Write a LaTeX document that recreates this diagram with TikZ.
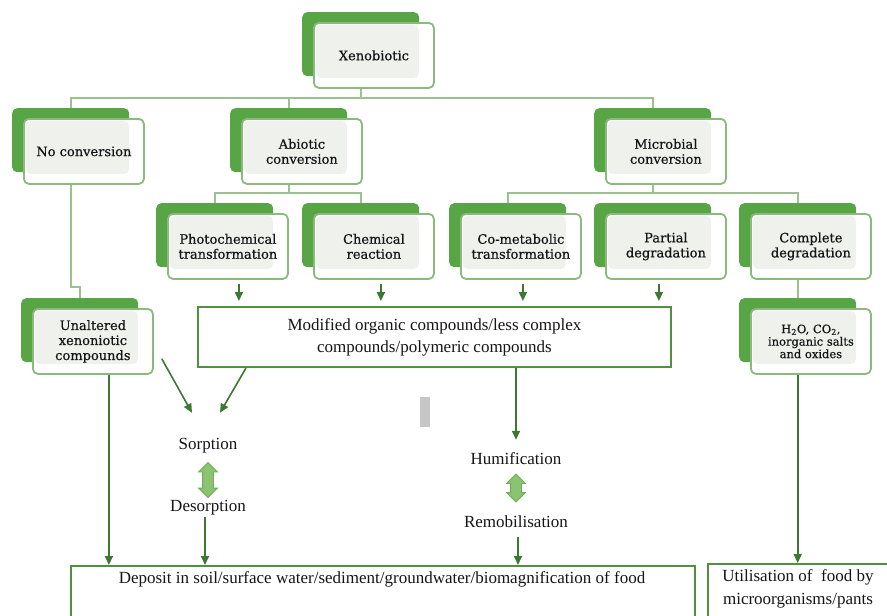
\documentclass[tikz,border=0pt]{standalone}
\usepackage{fontspec}
\setmainfont{Liberation Serif}
\newfontfamily\boxfont[FakeBold=0.5]{DejaVu Serif}
\usetikzlibrary{arrows.meta,shapes.arrows}

\definecolor{leafgreen}{HTML}{58A546}
\definecolor{frameedge}{HTML}{8CB97D}
\definecolor{paneltint}{HTML}{EEF1EC}
\definecolor{treeline}{HTML}{9CC090}
\definecolor{flowgreen}{HTML}{3C7832}
\definecolor{outframe}{HTML}{509141}
\definecolor{swapfill}{HTML}{8CC373}
\definecolor{swapedge}{HTML}{6FAE58}
\definecolor{ink}{HTML}{151515}

\tikzset{
  backbox/.style={rectangle, rounded corners=5pt, fill=leafgreen,
    minimum width=117pt, minimum height=64pt, inner sep=0pt},
  frontbox/.style={rectangle, rounded corners=5pt, draw=frameedge, line width=1.8pt,
    fill=white, minimum width=120pt, minimum height=65pt, inner sep=0pt,
    align=center, text=ink, font=\boxfont\fontsize{13}{15}\selectfont,
    path picture={\fill[paneltint]
      ([shift={(2pt,-2pt)}]path picture bounding box.north west) rectangle
      ([shift={(-15pt,10pt)}]path picture bounding box.south east);}},
  tree/.style={draw=treeline, line width=1.8pt},
  flow/.style={draw=flowgreen, line width=1.6pt, -{Triangle[length=9pt,width=8pt]}},
  outbox/.style={rectangle, draw=outframe, line width=2pt, inner sep=0pt},
  plain/.style={font=\fontsize{17}{22}\selectfont, text=ink, inner sep=0pt,
    text height=12pt, text depth=4pt},
  swap/.style={double arrow, double arrow head extend=4pt, minimum width=18pt,
    inner xsep=0pt, inner ysep=5pt, rotate=90, fill=swapfill, draw=swapedge,
    line width=0.8pt}
}

% green tab behind a framed white panel; #2,#3 = top-left corner of the panel
\newcommand\greenbox[4]{%
  \node[backbox, anchor=north west] (#1-b) at (#2-11,#3-10) {};
  \node[frontbox, anchor=north west] (#1) at (#2,#3) {#4};
}

\begin{document}
\begin{tikzpicture}[x=1pt,y=-1pt]
\useasboundingbox (0,0) rectangle (887,616);
\clip (0,0) rectangle (887,616);

% bus coordinates of the tree
\coordinate (bus1) at (0,98);
\coordinate (bus2) at (0,193);
\coordinate (jog) at (0,287);

% boxes of the classification tree
\greenbox{xeno}{313}{22}{Xenobiotic}
\greenbox{nocv}{23}{118}{No conversion}
\greenbox{abio}{241}{118}{Abiotic\\conversion}
\greenbox{micro}{605}{118}{Microbial\\conversion}
\greenbox{photo}{167}{213}{Photochemical\\transformation}
\greenbox{chem}{313}{213}{Chemical\\reaction}
\greenbox{comet}{460}{213}{Co-metabolic\\transformation}
\greenbox{part}{605}{213}{Partial\\degradation}
\greenbox{comp}{750}{213}{Complete\\degradation}
\greenbox{unalt}{32}{308}{Unaltered\\xenoniotic\\compounds}
\node[backbox, anchor=north west] (h2o-b) at (739,298) {};
\node[frontbox, anchor=north west, font=\boxfont\fontsize{11.5}{12.5}\selectfont] (h2o) at (750,308)
  {H\textsubscript{2}O, CO\textsubscript{2},\\inorganic salts\\and oxides};

% tree connectors
\draw[tree] (xeno-b.south |- xeno.south) -- (xeno-b.south |- bus1);
\draw[tree] (nocv-b.north) |- (xeno-b.south |- bus1) -| (micro-b.north);
\draw[tree] (abio-b.north) -- (abio-b.north |- bus1);
\draw[tree] (abio-b.south |- abio.south) -- (abio-b.south |- bus2);
\draw[tree] (photo-b.north) |- (abio-b.south |- bus2) -| (chem-b.north);
\draw[tree] (micro-b.south |- micro.south) -- (micro-b.south |- bus2);
\draw[tree] (comet-b.north) |- (micro-b.south |- bus2) -| (comp-b.north);
\draw[tree] (nocv-b.south |- nocv.south) -- (nocv-b.south |- jog) -| (unalt-b.north);
\draw[tree] (comp-b.south |- comp.south) -- (h2o-b.north);

% product and fate boxes
\node[outbox, minimum width=473pt, minimum height=60pt, align=center,
  font=\fontsize{17}{22}\selectfont, text=ink] (modi) at (434.5,337)
  {Modified organic compounds/less complex\\compounds/polymeric compounds};
\node[outbox, anchor=north west, minimum width=624pt, minimum height=80pt] (depo) at (70,565) {};
\node[plain] (depo-t) at (382,579)
  {Deposit in soil/surface water/sediment/groundwater/biomagnification of food};
\node[outbox, anchor=north west, minimum width=190pt, minimum height=80pt] (util) at (707,563) {};
\node[align=center, inner sep=0pt, text=ink, font=\fontsize{17}{23}\selectfont] (util-t) at (798,589)
  {Utilisation of\ \ food by\\microorganisms/pants};

% equilibria
\node[plain] (sorp) at (208,445) {Sorption};
\node[plain] (deso) at (208,507) {Desorption};
\node[swap, minimum height=35pt] (sd) at (208,480) {};
\node[plain] (humi) at (516,460) {Humification};
\node[plain] (remo) at (516,523) {Remobilisation};
\node[swap, minimum height=28pt] (hr) at (516,488) {};

% grey marker
\fill[gray!45] (420,397) rectangle (430,427);

% flow arrows
\draw[flow, shorten >=5pt] ([xshift=11pt,yshift=-4pt]photo.south) -- ([xshift=11pt]photo.south |- modi.north);
\draw[flow, shorten >=5pt] ([xshift=7pt,yshift=-4pt]chem.south) -- ([xshift=7pt]chem.south |- modi.north);
\draw[flow, shorten >=5pt] ([xshift=2pt,yshift=-4pt]comet.south) -- ([xshift=2pt]comet.south |- modi.north);
\draw[flow, shorten >=5pt] ([xshift=-7pt,yshift=-4pt]part.south) -- ([xshift=-7pt]part.south |- modi.north);
\draw[flow] ([xshift=16pt]unalt.south) -- ([xshift=16pt]unalt.south |- depo.north);
\draw[flow] ([xshift=8pt,yshift=16pt]unalt.south east) -- ([xshift=-16pt,yshift=24pt]sorp.north);
\draw[flow] ([xshift=49pt]modi.south west) -- ([xshift=12pt,yshift=24pt]sorp.north);
\draw[flow, shorten >=12pt] (humi |- modi.south) -- (humi.north);
\draw[flow, shorten <=2pt] ([xshift=-3pt]deso.south) -- ([xshift=-3pt]deso.south |- depo.north);
\draw[flow, shorten <=6pt] ([xshift=2pt]remo.south) -- ([xshift=2pt]remo.south |- depo.north);
\draw[flow] (h2o-b.south |- h2o.south) -- (h2o-b.south |- util.north);
\end{tikzpicture}
\end{document}
